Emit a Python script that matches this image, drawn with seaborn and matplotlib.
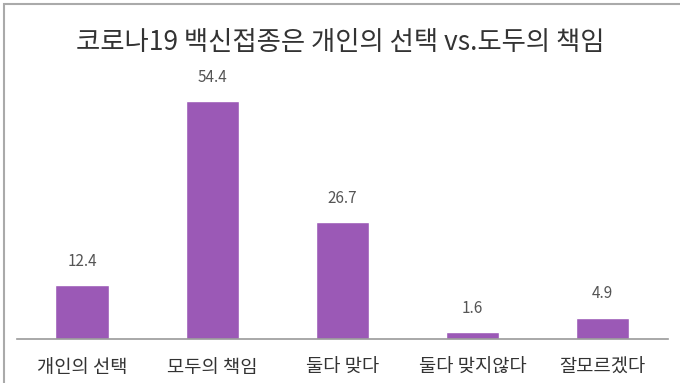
import pandas as pd
import seaborn as sns
import matplotlib.pyplot as plt
from matplotlib.patches import Rectangle

# 데이터
categories = ["개인의 선택", "모두의 책임", "둘다 맞다", "둘다 맞지않다", "잘모르겠다"]
values = [12.4, 54.4, 26.7, 1.6, 4.9]
title = "코로나19 백신접종은 개인의 선택 vs.도두의 책임"

df = pd.DataFrame({"category": categories, "value": values})

sns.set_theme(style="white")
plt.rcParams["font.family"] = ["Noto Sans CJK KR", "DejaVu Sans"]

fig = plt.figure(figsize=(6.8, 3.83), dpi=100)
ax = fig.add_axes([0.025, 0.115, 0.957, 0.685])

sns.barplot(data=df, x="category", y="value", color="#9b59b6",
            saturation=1, width=0.41, ax=ax)

for i, v in enumerate(values):
    ax.text(i, v + 5.4, f"{v}", ha="center", va="center",
            fontsize=11, color="#555555")

ax.set_xlim(-0.5, 4.5)
ax.set_ylim(0, 60)
ax.set_xlabel("")
ax.set_ylabel("")
ax.set_yticks([])
ax.tick_params(axis="x", length=0, pad=13, labelsize=13.5, labelcolor="#333333")
for s in ["top", "left", "right"]:
    ax.spines[s].set_visible(False)
ax.spines["bottom"].set_color("#999999")
ax.spines["bottom"].set_linewidth(1.2)

fig.text(0.5, 0.888, title, ha="center", va="center", fontsize=19,
         color="#333333", fontweight="light")

# 바깥 테두리
fig.patches.append(Rectangle((4 / 680, -0.1), 1.2, (379 / 383) + 0.1,
                             transform=fig.transFigure, fill=False,
                             edgecolor="#aaaaaa", linewidth=1.5))

fig.savefig("out.png", dpi=100)
